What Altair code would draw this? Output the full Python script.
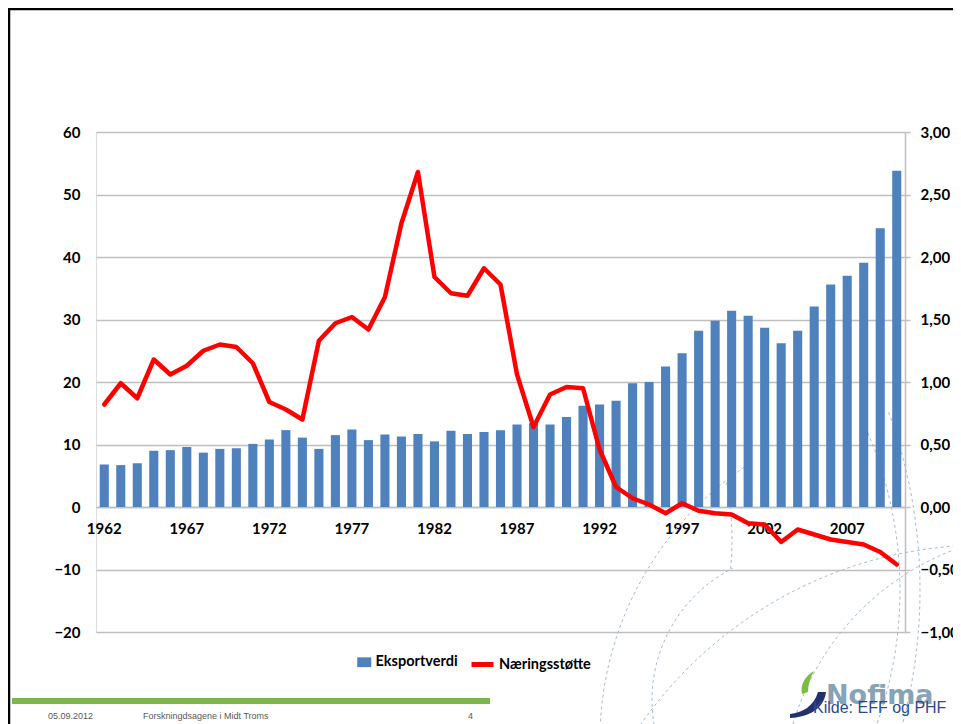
import math
import altair as alt
import pandas as pd

years = list(range(1962, 2011))
eksportverdi = [6.8, 6.7, 7.0, 9.0, 9.1, 9.6, 8.7, 9.3, 9.4, 10.1,
                10.8, 12.3, 11.1, 9.3, 11.5, 12.4, 10.7, 11.6, 11.3, 11.7,
                10.5, 12.2, 11.7, 12.0, 12.3, 13.2, 13.4, 13.2, 14.4, 16.2,
                16.4, 17.0, 19.8, 20.0, 22.5, 24.6, 28.2, 29.8, 31.4, 30.6,
                28.7, 26.2, 28.2, 32.1, 35.6, 37.0, 39.1, 44.6, 53.8]
naeringsstotte = [0.82, 0.99, 0.87, 1.18, 1.06, 1.13, 1.25, 1.30, 1.28, 1.15,
                  0.84, 0.78, 0.70, 1.33, 1.47, 1.52, 1.42, 1.68, 2.27, 2.68,
                  1.84, 1.71, 1.69, 1.91, 1.78, 1.06, 0.64, 0.90, 0.96, 0.95,
                  0.46, 0.16, 0.07, 0.02, -0.05, 0.03, -0.03, -0.05, -0.06, -0.13,
                  -0.14, -0.28, -0.18, -0.22, -0.26, -0.28, -0.30, -0.36, -0.46]
x_tick_labels = [1962, 1967, 1972, 1977, 1982, 1987, 1992, 1997, 2002, 2007]
left_ticks = [-20, -10, 0, 10, 20, 30, 40, 50, 60]
right_ticks = [-1.0, -0.5, 0.0, 0.5, 1.0, 1.5, 2.0, 2.5, 3.0]

df = pd.DataFrame({
    "year": years,
    "eksport": eksportverdi,
    "stotte": naeringsstotte,
    "s1": ["Eksportverdi"] * len(years),
    "s2": ["Næringsstøtte"] * len(years),
})

W, H = 809, 500
OX, OY = 96, 132  # page position of plot origin
FONT = "Lato"
GRID = "#BFBFBF"

x_enc = alt.X(
    "year:O",
    scale=alt.Scale(paddingInner=0.45, paddingOuter=0.225),
    axis=alt.Axis(
        values=x_tick_labels, title=None, labelAngle=0, offset=-125,
        domainColor=GRID, domainWidth=1.5, ticks=False, labelPadding=14,
        labelFont=FONT, labelFontWeight="bold", labelFontSize=15, labelColor="#000000",
        grid=False,
    ),
)

bars = alt.Chart(df).mark_bar(color="#4F81BD").encode(
    x=x_enc,
    y=alt.Y(
        "eksport:Q",
        scale=alt.Scale(domain=[-20, 60], nice=False, zero=False),
        axis=alt.Axis(
            values=left_ticks, title=None, domain=False, ticks=False,
            labelPadding=16, labelFont=FONT, labelFontWeight="bold", labelFontSize=15,
            labelColor="#000000", gridColor=GRID, gridWidth=1.5, gridOpacity=1,
        ),
    ),
    color=alt.Color(
        "s1:N",
        scale=alt.Scale(domain=["Eksportverdi"], range=["#4F81BD"]),
        legend=alt.Legend(
            title=None, orient="none", legendX=261, legendY=523, padding=0,
            symbolType="M-1,-0.7H1V0.7H-1Z", symbolSize=196, symbolStrokeWidth=0,
            labelFont=FONT, labelFontSize=14.5, labelFontWeight="bold", labelColor="#000000",
            labelOffset=4,
        ),
    ),
)

line = alt.Chart(df).mark_line(strokeWidth=4.5, strokeJoin="round", strokeCap="round").encode(
    x=alt.X("year:O"),
    y=alt.Y(
        "stotte:Q",
        scale=alt.Scale(domain=[-1, 3], nice=False, zero=False),
        axis=alt.Axis(
            orient="right", values=right_ticks, title=None, grid=False,
            domainColor=GRID, domainWidth=1.5, tickColor=GRID, tickWidth=1.5, tickSize=5,
            labelPadding=10, labelFont=FONT, labelFontWeight="bold", labelFontSize=15,
            labelColor="#000000",
            labelExpr="replace(format(datum.value, '.2f'), '.', ',')",
        ),
    ),
    stroke=alt.Stroke(
        "s2:N",
        scale=alt.Scale(domain=["Næringsstøtte"], range=["#FF0000"]),
        legend=alt.Legend(
            title=None, orient="none", legendX=373, legendY=519, padding=0,
            symbolType="stroke", symbolSize=484, symbolStrokeWidth=5,
            labelFont=FONT, labelFontSize=14.5, labelFontWeight="bold", labelColor="#000000",
            labelOffset=3,
        ),
    ),
)

# ---- slide decorations (not data) ----
deco = pd.DataFrame({"k": [0]})
frame_top = alt.Chart(deco).mark_rule(color="#000000", strokeWidth=2.5).encode(
    x=alt.value(-88), x2=alt.value(W + 60), y=alt.value(-123))
frame_left = alt.Chart(deco).mark_rule(color="#000000", strokeWidth=2.5).encode(
    x=alt.value(-87), y=alt.value(-124), y2=alt.value(H + 100))
green_bar = alt.Chart(deco).mark_rect(color="#7AB648").encode(
    x=alt.value(-84), x2=alt.value(394), y=alt.value(566), y2=alt.value(572))

# watermark arcs: (page cx, page cy, radius, start deg, end deg)
arc_specs = [
    (930, 740, 330, 178, 236),
    (800, 700, 148, 168, 243),
    (430, 540, 302, -11, 6),
    (985, 965, 420, 196, 266),
    (1050, 800, 268, 190, 254),
    (400, 590, 520, -20, 17),
    (500, 590, 400, -24, 20),
]
watermark = []
for cx, cy, r, a0, a1 in arc_specs:
    x0, y0 = math.cos(math.radians(a0)), math.sin(math.radians(a0))
    x1, y1 = math.cos(math.radians(a1)), math.sin(math.radians(a1))
    path = f"M{x0:.4f},{y0:.4f} A1,1 0 0,1 {x1:.4f},{y1:.4f}"
    watermark.append(
        alt.Chart(deco).mark_point(
            shape=path, size=(2 * r) ** 2, filled=False, color="#A7BCCD",
            strokeWidth=1, strokeDash=[3, 3], opacity=1,
        ).encode(x=alt.value(cx - OX), y=alt.value(cy - OY))
    )

foot = pd.DataFrame({
    "t": ["05.09.2012", "Forskningdsagene i Midt Troms", "4"],
    "px": [-48, 47, 372],
})
footer = alt.Chart(foot).mark_text(
    align="left", baseline="middle", font="Liberation Sans", fontSize=9, color="#595959"
).encode(x=alt.X("px:Q", scale=None), y=alt.value(584), text="t:N")

swoosh_green = alt.Chart(deco).mark_point(
    shape="M2,4 C0,-5 5,-14 14,-19 C10,-12 8,-5 8,2 Z", size=4, filled=True,
    color="#7DBB42", opacity=1, strokeWidth=0,
).encode(x=alt.value(800 - OX), y=alt.value(690 - OY))
swoosh_navy = alt.Chart(deco).mark_point(
    shape="M-10,24 C2,23 14,16 18,2 L26,2 C24,18 10,27 -10,28 Z", size=4, filled=True,
    color="#25306E", opacity=1, strokeWidth=0,
).encode(x=alt.value(800 - OX), y=alt.value(690 - OY))
logo = alt.Chart(deco).mark_text(
    text="Nofima", align="left", baseline="alphabetic", font="DejaVu Sans", fontWeight="bold",
    fontSize=27, color="#86A3B7",
).encode(x=alt.value(826 - OX), y=alt.value(704 - OY))
kilde = alt.Chart(deco).mark_text(
    text="Kilde: EFF og PHF", align="left", baseline="middle", font="Liberation Sans",
    fontSize=16, color="#2B4A8C",
).encode(x=alt.value(813 - OX), y=alt.value(708 - OY))

chart = alt.layer(
    *watermark, frame_top, frame_left, green_bar, footer,
    swoosh_green, swoosh_navy, logo, kilde, bars, line
).resolve_scale(
    y="independent", x="shared"
).properties(
    width=W, height=H,
    autosize=alt.AutoSizeParams(type="none"),
    padding={"left": 88, "top": 124, "right": 48, "bottom": 92},
).configure_view(stroke=None).configure(background="#FFFFFF")

chart.save("out.html", embed_options={"renderer": "svg", "actions": False})
